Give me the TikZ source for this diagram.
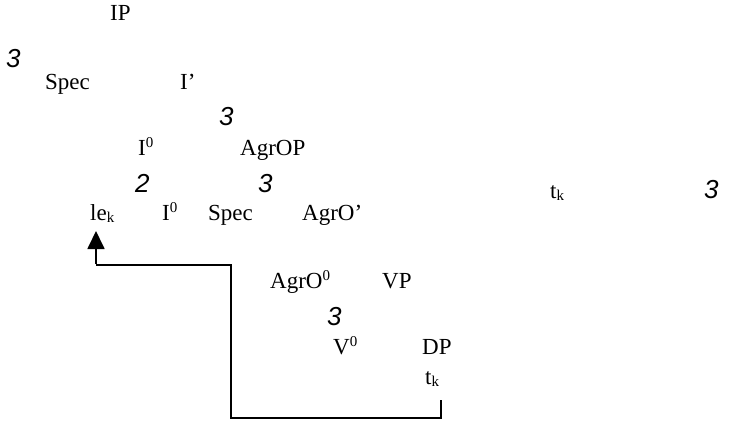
\documentclass[tikz,border=0pt]{standalone}
\usepackage{fontspec}
\setmainfont{Liberation Serif}
\newfontfamily\brfont{Liberation Sans}
\usetikzlibrary{arrows.meta}
\newcommand{\mysup}[1]{\raisebox{0.75ex}{\fontsize{15}{15}\selectfont #1}}
\newcommand{\mysub}[1]{\raisebox{-0.25ex}{\fontsize{15}{15}\selectfont #1}}
\tikzset{
  lab/.style={inner sep=0pt, anchor=base west, font=\fontsize{23}{27}\selectfont},
  br/.style={inner sep=0pt, anchor=base west, font=\brfont\itshape\fontsize{26}{30}\selectfont},
  conn/.style={line width=1.8pt},
}
\begin{document}
\begin{tikzpicture}[x=1pt,y=-1pt]
\useasboundingbox (0,0) rectangle (734,421);
\node[lab] (ip) at (110,20) {IP};
\node[br] (b1) at (6,67) {3};
\node[lab] (spec1) at (45,89) {Spec};
\node[lab] (ibar) at (180,89) {I'};
\node[br] (b2) at (219,125) {3};
\node[lab] (i0a) at (138,155) {I\mysup{0}};
\node[lab] (agrop) at (240,155) {AgrOP};
\node[br] (b3) at (135,192) {2};
\node[br] (b4) at (258,192) {3};
\node[lab] (lek) at (90,220) {le\mysub{k}};
\node[lab] (i0b) at (162,220) {I\mysup{0}};
\node[lab] (spec2) at (208,220) {Spec};
\node[lab] (agrobar) at (302,220) {AgrO'};
\node[lab] (tk1) at (550,198) {t\mysub{k}};
\node[br] (b5) at (704,198) {3};
\node[lab] (agro0) at (270,288) {AgrO\mysup{0}};
\node[lab] (vp) at (382,288) {VP};
\node[br] (b6) at (327,325) {3};
\node[lab] (v0) at (333,354) {V\mysup{0}};
\node[lab] (dp) at (422,354) {DP};
\node[lab] (tk2) at (425,384) {t\mysub{k}};
\coordinate (a1) at (96,231);
\coordinate (p0) at (441,400);
\coordinate (p1) at (441,418);
\coordinate (p2) at (231,418);
\coordinate (p3) at (231,265);
\coordinate (p4) at (96,265);
\draw[conn] (p0) -- (p1) -- (p2) -- (p3) -- (p4);
\draw[conn, -{Triangle[length=18pt,width=17pt]}] ([yshift=0.9pt]p4) -- (a1);
\end{tikzpicture}
\end{document}
